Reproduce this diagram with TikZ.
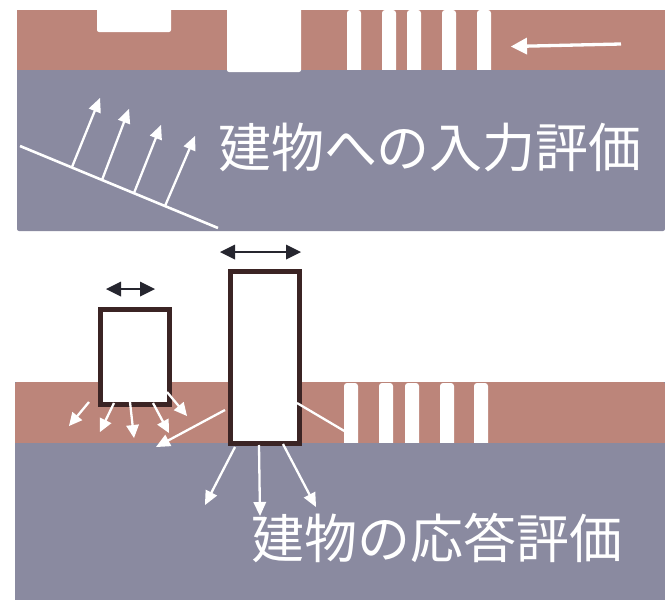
\documentclass[tikz,border=0pt]{standalone}
\usepackage{fontspec}
\newfontfamily\cjk{Noto Sans CJK JP}
\usetikzlibrary{calc}
\definecolor{soil}{HTML}{BC857A}
\definecolor{rock}{HTML}{8A8AA0}
\definecolor{bframe}{HTML}{3B2424}
\definecolor{darr}{HTML}{26262F}
% #1 colour, #2 line width, #3 tail, #4 tip, #5 head length, #6 head half-width
\newcommand\headarrow[6]{%
  \coordinate (hb) at ($(#4)!#5!(#3)$);
  \draw[#1, line width=#2] (#3) -- ($(#4)!#5-1pt!(#3)$);
  \fill[#1] (#4) -- ($(hb)!#6!90:(#3)$) -- ($(hb)!#6!-90:(#3)$) -- cycle;
}
\newcommand\dblarrow[6]{%
  \coordinate (hb1) at ($(#3)!#5!(#4)$);
  \coordinate (hb2) at ($(#4)!#5!(#3)$);
  \draw[#1, line width=#2] (hb1) -- (hb2);
  \fill[#1] (#3) -- ($(hb1)!#6!90:(#4)$) -- ($(hb1)!#6!-90:(#4)$) -- cycle;
  \fill[#1] (#4) -- ($(hb2)!#6!90:(#3)$) -- ($(hb2)!#6!-90:(#3)$) -- cycle;
}
\begin{document}
\begin{tikzpicture}[x=1pt,y=-1pt,
 stripe/.style={fill=white, rounded corners=3pt},
 bldg/.style={fill=white, draw=bframe, line width=5.5pt},
 lbl/.style={white, font=\cjk\fontsize{53}{53}\selectfont, inner sep=0pt}]
\useasboundingbox (0,0) rectangle (665,600);
% ---------- top panel ----------
\fill[rock, rounded corners=2pt] (17,10) rectangle (665,231);
\fill[soil] (17,10) rectangle (665,70);
\foreach \x in {347,382,407,442,477}
  \fill[stripe] (\x,10) rectangle (\x+14,80);
\fill[rock] (17,70) rectangle (665,100);
\fill[white, rounded corners=2pt] (97,4) rectangle (171,32);
\fill[white, rounded corners=2pt] (227,4) rectangle (301,72);
\coordinate (wt) at (621,44);
\coordinate (wh) at (511,46.5);
\headarrow{white}{3.3pt}{wt}{wh}{16pt}{8.5pt}
% slope and incident waves
\coordinate (s1) at (20,146);
\coordinate (s2) at (218,228);
\draw[white, line width=2.6pt] (s1) -- (s2);
\foreach \bx/\by/\tx/\ty [count=\i] in {72/167/100/98, 102/180/129/109, 134/193/161/125, 165/206/195/136}{
  \coordinate (b\i) at (\bx,\by);
  \coordinate (t\i) at (\tx,\ty);
  \headarrow{white}{2.3pt}{b\i}{t\i}{14pt}{6.5pt}
}
\node[lbl] (title1) at (430,147) {建物への入力評価};
% ---------- bottom panel ----------
\fill[rock] (15,382) rectangle (665,600);
\fill[soil, rounded corners=1.5pt] (15,382) rectangle (665,450);
\foreach \x in {344,379,405,440,474}
  \fill[stripe] (\x,383) rectangle (\x+14,450);
\fill[rock] (15,443) rectangle (665,460);
% buildings
\node[bldg, minimum width=69pt, minimum height=95pt, inner sep=0pt, anchor=north west] (small) at (97.5,306.5) {};
\node[bldg, minimum width=69pt, minimum height=172pt, inner sep=0pt, anchor=north west] (big) at (227.5,268.5) {};
% double arrows
\coordinate (sa1) at (106,289); \coordinate (sa2) at (155,289);
\dblarrow{darr}{2pt}{sa1}{sa2}{15pt}{7.5pt}
\coordinate (ba1) at (220,252); \coordinate (ba2) at (301,252);
\dblarrow{darr}{2pt}{ba1}{ba2}{15pt}{7.5pt}
% radiation from small building
\foreach \ax/\ay/\bx/\by [count=\i] in {89/402/69/426, 114/403/100/432, 130/402/134/438, 153/403/169/433, 167/392/187/416}{
  \coordinate (ra\i) at (\ax,\ay);
  \coordinate (rb\i) at (\bx,\by);
  \headarrow{white}{2.3pt}{ra\i}{rb\i}{13pt}{6.5pt}
}
% radiation from big building
\foreach \ax/\ay/\bx/\by [count=\i] in {225/410/156/447, 235/447/205/505, 259/445/260/516, 283/444/316/507}{
  \coordinate (qa\i) at (\ax,\ay);
  \coordinate (qb\i) at (\bx,\by);
  \headarrow{white}{2.3pt}{qa\i}{qb\i}{14pt}{6.5pt}
}
\coordinate (rl1) at (297,403);
\coordinate (rl2) at (346,432);
\draw[white, line width=2.3pt] (rl1) -- (rl2);
\node[lbl] (title2) at (437,538) {建物の応答評価};
\end{tikzpicture}
\end{document}
